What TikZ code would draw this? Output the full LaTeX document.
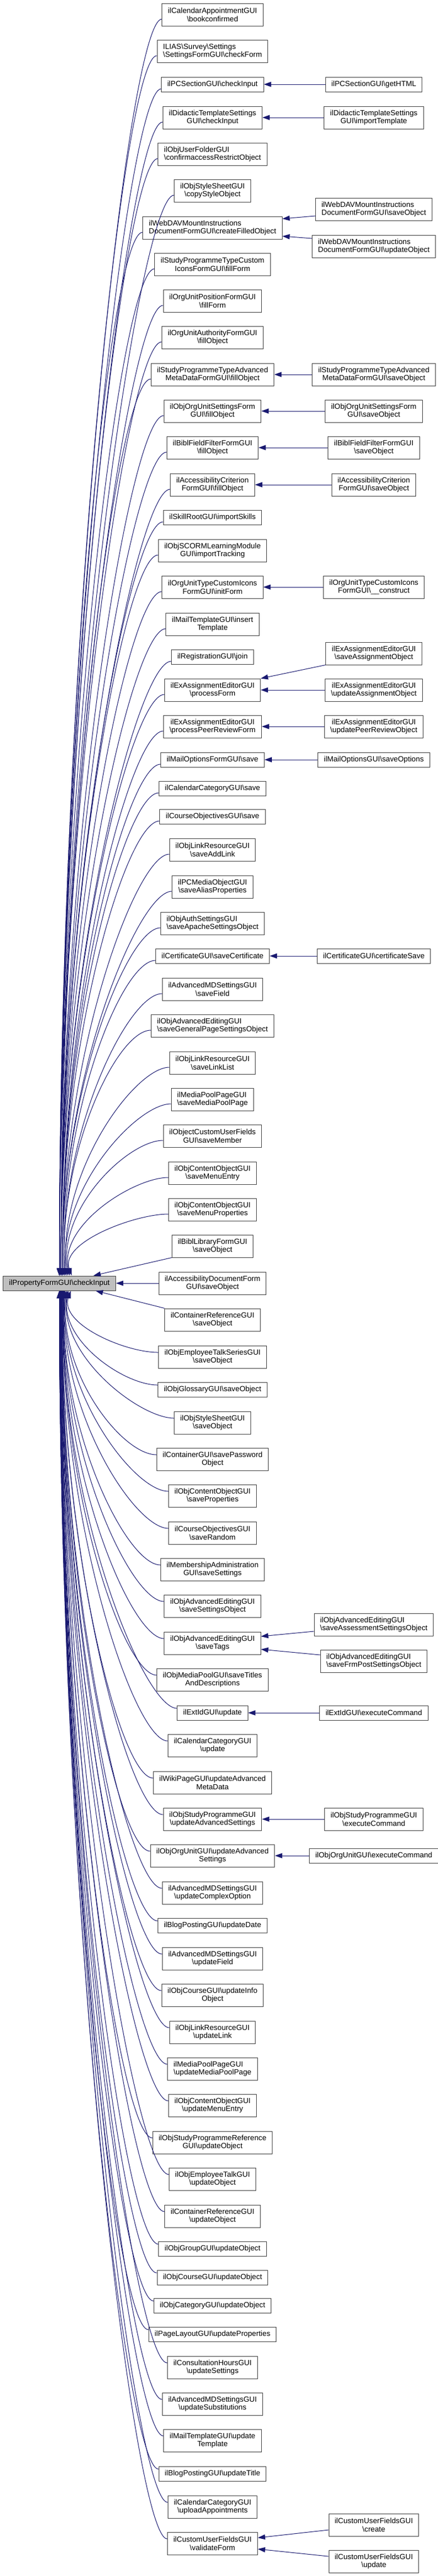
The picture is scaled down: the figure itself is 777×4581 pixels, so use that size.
\documentclass[tikz,border=0pt]{standalone}
\usepackage{fontspec}
\setmainfont{Liberation Sans}
\usepackage{xcolor}
\usepackage{tikz}
\usetikzlibrary{arrows.meta,calc}

\definecolor{midnight}{HTML}{191970}
\newcommand{\bsl}{\textbackslash}

\begin{document}
\begin{tikzpicture}[
  x=1pt, y=-1pt,
  every node/.style={draw=black!75, fill=white, line width=1pt,
    font=\fontsize{13.3}{14.7}\selectfont, align=center,
    inner xsep=10.5pt, inner ysep=2pt, minimum height=26pt},
  twoline/.style={minimum height=40pt},
  flush/.style={align=left}, %doxygen left-justified labels
  callin/.style={draw=midnight, line width=1pt, -{Triangle[length=13pt,width=9pt]}},
  callup/.style={callin, to path={([yshift=-8pt]\tikztostart.west)
      .. controls ([xshift=-60pt,yshift=-8pt]\tikztostart.west)
      and ($(\tikztotarget.north)!0.5!(\tikztotarget.north |- \tikztostart.west)$)
      .. ([xshift=#1]\tikztotarget.north) \tikztonodes}},
  callup/.default=0pt,
  calldown/.style={callin, to path={([yshift=8pt]\tikztostart.west)
      .. controls ([xshift=-60pt,yshift=8pt]\tikztostart.west)
      and ($(\tikztotarget.south)!0.5!(\tikztotarget.south |- \tikztostart.west)$)
      .. ([xshift=#1]\tikztotarget.south) \tikztonodes}},
  calldown/.default=0pt]

\useasboundingbox (0,0) rectangle (777,4581);

\node[fill=black!25] (main) at (105.5,2282) {ilPropertyFormGUI\bsl checkInput};

% callers
\node[twoline] (calBook) at (377.5,26) {ilCalendarAppointmentGUI\\\bsl bookconfirmed};
\node[twoline, flush] (surveyCheck) at (377.5,91) {ILIAS\bsl Survey\bsl Settings\\\bsl SettingsFormGUI\bsl checkForm};
\node (pcCheck) at (377.5,150) {ilPCSectionGUI\bsl checkInput};
\node[twoline] (didCheck) at (377.5,209) {ilDidacticTemplateSettings\\GUI\bsl checkInput};
\node[twoline, flush] (userFolder) at (377.5,274) {ilObjUserFolderGUI\\\bsl confirmaccessRestrictObject};
\node[twoline] (styleCopy) at (377.5,339) {ilObjStyleSheetGUI\\\bsl copyStyleObject};
\node[twoline, flush] (wdFill) at (377.5,405) {ilWebDAVMountInstructions\\DocumentFormGUI\bsl createFilledObject};
\node[twoline] (spIcons) at (377.5,470) {ilStudyProgrammeTypeCustom\\IconsFormGUI\bsl fillForm};
\node[twoline] (ouPos) at (377.5,535) {ilOrgUnitPositionFormGUI\\\bsl fillForm};
\node[twoline] (ouAuth) at (377.5,600) {ilOrgUnitAuthorityFormGUI\\\bsl fillObject};
\node[twoline] (spAdvFill) at (377.5,666) {ilStudyProgrammeTypeAdvanced\\MetaDataFormGUI\bsl fillObject};
\node[twoline] (ouSetFill) at (377.5,731) {ilObjOrgUnitSettingsForm\\GUI\bsl fillObject};
\node[twoline] (bfFill) at (377.5,796) {ilBiblFieldFilterFormGUI\\\bsl fillObject};
\node[twoline] (acFill) at (377.5,862) {ilAccessibilityCriterion\\FormGUI\bsl fillObject};
\node (skillImport) at (377.5,920) {ilSkillRootGUI\bsl importSkills};
\node[twoline] (scormImport) at (377.5,979) {ilObjSCORMLearningModule\\GUI\bsl importTracking};
\node[twoline] (otInit) at (377.5,1044) {ilOrgUnitTypeCustomIcons\\FormGUI\bsl initForm};
\node[twoline] (mtInsert) at (377.5,1110) {ilMailTemplateGUI\bsl insert\\Template};
\node (regJoin) at (377.5,1168) {ilRegistrationGUI\bsl join};
\node[twoline] (exProc) at (377.5,1227) {ilExAssignmentEditorGUI\\\bsl processForm};
\node[twoline] (exPeer) at (377.5,1292) {ilExAssignmentEditorGUI\\\bsl processPeerReviewForm};
\node (moSave) at (377.5,1351) {ilMailOptionsFormGUI\bsl save};
\node (ccSave) at (377.5,1402) {ilCalendarCategoryGUI\bsl save};
\node (coSave) at (377.5,1452) {ilCourseObjectivesGUI\bsl save};
\node[twoline] (lrAdd) at (377.5,1511) {ilObjLinkResourceGUI\\\bsl saveAddLink};
\node[twoline] (pcmAlias) at (377.5,1577) {ilPCMediaObjectGUI\\\bsl saveAliasProperties};
\node[twoline, flush] (authApache) at (377.5,1642) {ilObjAuthSettingsGUI\\\bsl saveApacheSettingsObject};
\node (certSave) at (377.5,1700) {ilCertificateGUI\bsl saveCertificate};
\node[twoline] (amdSaveField) at (377.5,1759) {ilAdvancedMDSettingsGUI\\\bsl saveField};
\node[twoline, flush] (aeGeneral) at (377.5,1824) {ilObjAdvancedEditingGUI\\\bsl saveGeneralPageSettingsObject};
\node[twoline] (lrList) at (377.5,1890) {ilObjLinkResourceGUI\\\bsl saveLinkList};
\node[twoline, flush] (mppSave) at (377.5,1955) {ilMediaPoolPageGUI\\\bsl saveMediaPoolPage};
\node[twoline] (cufMember) at (377.5,2020) {ilObjectCustomUserFields\\GUI\bsl saveMember};
\node[twoline] (coMenuEntry) at (377.5,2086) {ilObjContentObjectGUI\\\bsl saveMenuEntry};
\node[twoline] (coMenuProp) at (377.5,2151) {ilObjContentObjectGUI\\\bsl saveMenuProperties};
\node[twoline] (blSave) at (377.5,2216) {ilBiblLibraryFormGUI\\\bsl saveObject};
\node[twoline] (adSave) at (377.5,2282) {ilAccessibilityDocumentForm\\GUI\bsl saveObject};
\node[twoline] (crSave) at (377.5,2347) {ilContainerReferenceGUI\\\bsl saveObject};
\node[twoline] (etsSave) at (377.5,2413) {ilObjEmployeeTalkSeriesGUI\\\bsl saveObject};
\node (glSave) at (377.5,2471) {ilObjGlossaryGUI\bsl saveObject};
\node[twoline] (ssSave) at (377.5,2530) {ilObjStyleSheetGUI\\\bsl saveObject};
\node[twoline] (cPwd) at (377.5,2595) {ilContainerGUI\bsl savePassword\\Object};
\node[twoline] (coProps) at (377.5,2660) {ilObjContentObjectGUI\\\bsl saveProperties};
\node[twoline] (coRandom) at (377.5,2726) {ilCourseObjectivesGUI\\\bsl saveRandom};
\node[twoline] (maSettings) at (377.5,2791) {ilMembershipAdministration\\GUI\bsl saveSettings};
\node[twoline] (aeSettings) at (377.5,2856) {ilObjAdvancedEditingGUI\\\bsl saveSettingsObject};
\node[twoline] (aeTags) at (377.5,2922) {ilObjAdvancedEditingGUI\\\bsl saveTags};
\node[twoline] (mpTitles) at (377.5,2987) {ilObjMediaPoolGUI\bsl saveTitles\\AndDescriptions};
\node (extUpd) at (377.5,3046) {ilExtIdGUI\bsl update};
\node[twoline] (ccUpd) at (377.5,3104) {ilCalendarCategoryGUI\\\bsl update};
\node[twoline] (wikiAdv) at (377.5,3170) {ilWikiPageGUI\bsl updateAdvanced\\MetaData};
\node[twoline] (spAdvSet) at (377.5,3235) {ilObjStudyProgrammeGUI\\\bsl updateAdvancedSettings};
\node[twoline] (ouAdvSet) at (377.5,3300) {ilObjOrgUnitGUI\bsl updateAdvanced\\Settings};
\node[twoline] (amdComplex) at (377.5,3366) {ilAdvancedMDSettingsGUI\\\bsl updateComplexOption};
\node (bpDate) at (377.5,3424) {ilBlogPostingGUI\bsl updateDate};
\node[twoline] (amdUpdField) at (377.5,3483) {ilAdvancedMDSettingsGUI\\\bsl updateField};
\node[twoline] (crsInfo) at (377.5,3548) {ilObjCourseGUI\bsl updateInfo\\Object};
\node[twoline] (lrUpd) at (377.5,3614) {ilObjLinkResourceGUI\\\bsl updateLink};
\node[twoline, flush] (mppUpd) at (377.5,3679) {ilMediaPoolPageGUI\\\bsl updateMediaPoolPage};
\node[twoline] (coUpdMenu) at (377.5,3744) {ilObjContentObjectGUI\\\bsl updateMenuEntry};
\node[twoline] (sprUpd) at (377.5,3810) {ilObjStudyProgrammeReference\\GUI\bsl updateObject};
\node[twoline] (etUpd) at (377.5,3875) {ilObjEmployeeTalkGUI\\\bsl updateObject};
\node[twoline] (crUpd) at (377.5,3941) {ilContainerReferenceGUI\\\bsl updateObject};
\node (grpUpd) at (377.5,3999) {ilObjGroupGUI\bsl updateObject};
\node (crsUpd) at (377.5,4050) {ilObjCourseGUI\bsl updateObject};
\node (catUpd) at (377.5,4100) {ilObjCategoryGUI\bsl updateObject};
\node (plProps) at (377.5,4151) {ilPageLayoutGUI\bsl updateProperties};
\node[twoline] (chSettings) at (377.5,4210) {ilConsultationHoursGUI\\\bsl updateSettings};
\node[twoline] (amdSubst) at (377.5,4275) {ilAdvancedMDSettingsGUI\\\bsl updateSubstitutions};
\node[twoline] (mtUpd) at (377.5,4340) {ilMailTemplateGUI\bsl update\\Template};
\node (bpTitle) at (377.5,4399) {ilBlogPostingGUI\bsl updateTitle};
\node[twoline] (ccUpload) at (377.5,4458) {ilCalendarCategoryGUI\\\bsl uploadAppointments};
\node[twoline] (cufValidate) at (377.5,4523) {ilCustomUserFieldsGUI\\\bsl validateForm};

% callers of callers
\node (pcHtml) at (664,150) {ilPCSectionGUI\bsl getHTML};
\node[twoline] (didImport) at (664,209) {ilDidacticTemplateSettings\\GUI\bsl importTemplate};
\node[twoline, flush] (wdSave) at (664,372) {ilWebDAVMountInstructions\\DocumentFormGUI\bsl saveObject};
\node[twoline, flush] (wdUpd) at (664,438) {ilWebDAVMountInstructions\\DocumentFormGUI\bsl updateObject};
\node[twoline] (spAdvSave) at (664,666) {ilStudyProgrammeTypeAdvanced\\MetaDataFormGUI\bsl saveObject};
\node[twoline] (ouSetSave) at (664,731) {ilObjOrgUnitSettingsForm\\GUI\bsl saveObject};
\node[twoline] (bfSave) at (664,796) {ilBiblFieldFilterFormGUI\\\bsl saveObject};
\node[twoline] (acSave) at (664,862) {ilAccessibilityCriterion\\FormGUI\bsl saveObject};
\node[twoline] (otConstruct) at (664,1044) {ilOrgUnitTypeCustomIcons\\FormGUI\bsl\_\_construct};
\node[twoline] (exSaveAssign) at (664,1162) {ilExAssignmentEditorGUI\\\bsl saveAssignmentObject};
\node[twoline] (exUpdAssign) at (664,1227) {ilExAssignmentEditorGUI\\\bsl updateAssignmentObject};
\node[twoline] (exUpdPeer) at (664,1292) {ilExAssignmentEditorGUI\\\bsl updatePeerReviewObject};
\node (moOptions) at (664,1351) {ilMailOptionsGUI\bsl saveOptions};
\node (certCS) at (664,1700) {ilCertificateGUI\bsl certificateSave};
\node[twoline, flush] (aeAssess) at (664,2889) {ilObjAdvancedEditingGUI\\\bsl saveAssessmentSettingsObject};
\node[twoline, flush] (aeFrm) at (664,2954) {ilObjAdvancedEditingGUI\\\bsl saveFrmPostSettingsObject};
\node (extCmd) at (664,3046) {ilExtIdGUI\bsl executeCommand};
\node[twoline] (spCmd) at (664,3235) {ilObjStudyProgrammeGUI\\\bsl executeCommand};
\node (ouCmd) at (664,3300) {ilObjOrgUnitGUI\bsl executeCommand};
\node[twoline] (cufCreate) at (664,4490) {ilCustomUserFieldsGUI\\\bsl create};
\node[twoline] (cufUpdate) at (664,4555) {ilCustomUserFieldsGUI\\\bsl update};

% edges into the checkInput node
\draw[callup] (calBook) to (main);
\draw[callup] (surveyCheck) to (main);
\draw[callup] (pcCheck) to (main);
\draw[callup] (didCheck) to (main);
\draw[callup] (userFolder) to (main);
\draw[callup] (styleCopy) to (main);
\draw[callup] (wdFill) to (main);
\draw[callup] (spIcons) to (main);
\draw[callup] (ouPos) to (main);
\draw[callup] (ouAuth) to (main);
\draw[callup=3pt] (spAdvFill) to (main);
\draw[callup=3pt] (ouSetFill) to (main);
\draw[callup=3pt] (bfFill) to (main);
\draw[callup=3pt] (acFill) to (main);
\draw[callup=3pt] (skillImport) to (main);
\draw[callup=3pt] (scormImport) to (main);
\draw[callup=3pt] (otInit) to (main);
\draw[callup=3pt] (mtInsert) to (main);
\draw[callup=3pt] (regJoin) to (main);
\draw[callup=3pt] (exProc) to (main);
\draw[callup=6pt] (exPeer) to (main);
\draw[callup=6pt] (moSave) to (main);
\draw[callup=6pt] (ccSave) to (main);
\draw[callup=6pt] (coSave) to (main);
\draw[callup=6pt] (lrAdd) to (main);
\draw[callup=6pt] (pcmAlias) to (main);
\draw[callup=6pt] (authApache) to (main);
\draw[callup=9pt] (certSave) to (main);
\draw[callup=9pt] (amdSaveField) to (main);
\draw[callup=9pt] (aeGeneral) to (main);
\draw[callup=12pt] (lrList) to (main);
\draw[callup=12pt] (mppSave) to (main);
\draw[callup=15pt] (cufMember) to (main);
\draw[callup=18pt] (coMenuEntry) to (main);
\draw[callup=22pt] (coMenuProp) to (main);
\draw[callin] (blSave.south west) -- ([xshift=-40pt]main.north east);
\draw[callin] (adSave) -- (main);
\draw[callin] (crSave.north west) -- ([xshift=-36pt]main.south east);
\draw[calldown=20pt] (etsSave) to (main);
\draw[calldown=16pt] (glSave) to (main);
\draw[calldown=14pt] (ssSave) to (main);
\draw[calldown=12pt] (cPwd) to (main);
\draw[calldown=10pt] (coProps) to (main);
\draw[calldown=9pt] (coRandom) to (main);
\draw[calldown=8pt] (maSettings) to (main);
\draw[calldown=8pt] (aeSettings) to (main);
\draw[calldown=7pt] (aeTags) to (main);
\draw[calldown=7pt] (mpTitles) to (main);
\draw[calldown=6pt] (extUpd) to (main);
\draw[calldown=6pt] (ccUpd) to (main);
\draw[calldown=5pt] (wikiAdv) to (main);
\draw[calldown=5pt] (spAdvSet) to (main);
\draw[calldown=5pt] (ouAdvSet) to (main);
\draw[calldown=4pt] (amdComplex) to (main);
\draw[calldown=4pt] (bpDate) to (main);
\draw[calldown=4pt] (amdUpdField) to (main);
\draw[calldown=3pt] (crsInfo) to (main);
\draw[calldown=3pt] (lrUpd) to (main);
\draw[calldown=3pt] (mppUpd) to (main);
\draw[calldown=2pt] (coUpdMenu) to (main);
\draw[calldown=2pt] (sprUpd) to (main);
\draw[calldown=2pt] (etUpd) to (main);
\draw[calldown=1pt] (crUpd) to (main);
\draw[calldown=1pt] (grpUpd) to (main);
\draw[calldown=1pt] (crsUpd) to (main);
\draw[calldown] (catUpd) to (main);
\draw[calldown] (plProps) to (main);
\draw[calldown] (chSettings) to (main);
\draw[calldown] (amdSubst) to (main);
\draw[calldown] (mtUpd) to (main);
\draw[calldown] (bpTitle) to (main);
\draw[calldown] (ccUpload) to (main);
\draw[calldown] (cufValidate) to (main);

% edges from the right column
\draw[callin] (pcHtml) -- (pcCheck);
\draw[callin] (didImport) -- (didCheck);
\draw[callin] ([yshift=-12pt]wdSave.west) -- ([yshift=16pt]wdFill.east);
\draw[callin] ([yshift=14pt]wdUpd.west) -- ([yshift=-15pt]wdFill.east);
\draw[callin] (spAdvSave) -- (spAdvFill);
\draw[callin] (ouSetSave) -- (ouSetFill);
\draw[callin] (bfSave) -- (bfFill);
\draw[callin] (acSave) -- (acFill);
\draw[callin] (otConstruct) -- (otInit);
\draw[callin] (exSaveAssign.south west) -- (exProc.north east);
\draw[callin] (exUpdAssign) -- (exProc);
\draw[callin] (exUpdPeer) -- (exPeer);
\draw[callin] (moOptions) -- (moSave);
\draw[callin] (certCS) -- (certSave);
\draw[callin] ([yshift=-12pt]aeAssess.west) -- ([yshift=12pt]aeTags.east);
\draw[callin] ([yshift=11pt]aeFrm.west) -- ([yshift=-11pt]aeTags.east);
\draw[callin] (extCmd) -- (extUpd);
\draw[callin] (spCmd) -- (spAdvSet);
\draw[callin] (ouCmd) -- (ouAdvSet);
\draw[callin] ([yshift=-9pt]cufCreate.west) -- ([yshift=10pt]cufValidate.east);
\draw[callin] ([yshift=9pt]cufUpdate.west) -- ([yshift=-10pt]cufValidate.east);
\end{tikzpicture}
\end{document}
